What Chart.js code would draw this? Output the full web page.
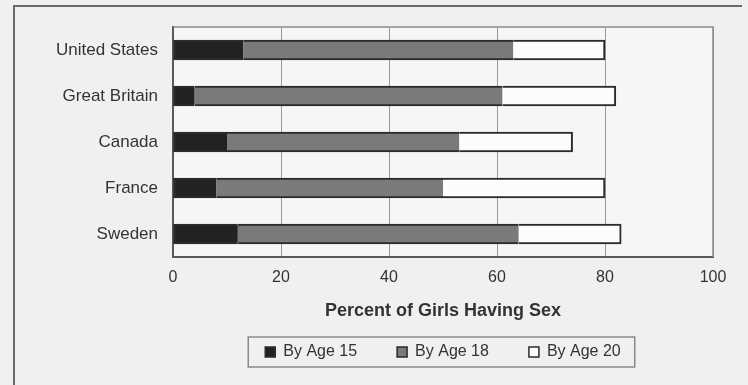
<!DOCTYPE html>
<html>
<head>
<meta charset="utf-8">
<script src="https://cdn.jsdelivr.net/npm/chart.js@4/dist/chart.umd.min.js"></script>
<style>
  html, body { margin: 0; padding: 0; background: #f0f0ee; }
  #wrap { width: 748px; height: 385px; position: relative; overflow: hidden; }
  canvas { display: block; }
</style>
</head>
<body>
<div id="wrap"><canvas id="chart" width="748" height="385"></canvas></div>
<script>
// Cumulative share of girls who have had sex, by age and country (%)
const countries = ['United States', 'Great Britain', 'Canada', 'France', 'Sweden'];
const byAge15 = [13, 4, 10, 8, 12];
const byAge18 = [63, 61, 53, 50, 64];
const byAge20 = [80, 82, 74, 80, 83];
const seriesNames = ['By Age 15', 'By Age 18', 'By Age 20'];
const xTickValues = [0, 20, 40, 60, 80, 100];
const axisTitle = 'Percent of Girls Having Sex';

// Stacked segments: each bar piece is the increase since the previous age
const seg15 = byAge15.slice();
const seg18 = byAge18.map((v, i) => v - byAge15[i]);
const seg20 = byAge20.map((v, i) => v - byAge18[i]);

const FONT = '"Liberation Sans", Arial, Helvetica, sans-serif';
const INK = '#2b2b2b';

// Page frame, plot-area outline and the box around the legend
const decorations = {
  id: 'decorations',
  beforeDraw(chart) {
    const { ctx, chartArea: a } = chart;
    ctx.save();
    ctx.fillStyle = '#f0f0ee';
    ctx.fillRect(0, 0, chart.width, chart.height);
    ctx.fillStyle = '#f6f6f4';
    ctx.fillRect(a.left, a.top, a.right - a.left, a.bottom - a.top);
    ctx.strokeStyle = '#6a6a6a';
    ctx.lineWidth = 2;
    ctx.beginPath();
    ctx.moveTo(14, chart.height + 2);
    ctx.lineTo(14, 6);
    ctx.lineTo(chart.width - 6, 6);
    ctx.stroke();
    ctx.restore();
  },
  afterDraw(chart) {
    const { ctx, chartArea: a } = chart;
    ctx.save();
    ctx.strokeStyle = '#8a8a8a';
    ctx.lineWidth = 1.5;
    ctx.beginPath();
    ctx.moveTo(a.left, a.top);
    ctx.lineTo(a.right, a.top);
    ctx.lineTo(a.right, a.bottom);
    ctx.stroke();
    const boxes = chart.legend && chart.legend.legendHitBoxes;
    if (boxes && boxes.length) {
      const first = boxes[0], last = boxes[boxes.length - 1];
      const x0 = first.left - 17, x1 = last.left + last.width + 14;
      const y0 = first.top - 7, y1 = first.top + first.height + 7;
      ctx.strokeStyle = '#8a8a8a';
      ctx.lineWidth = 1.5;
      ctx.strokeRect(x0, y0, x1 - x0, y1 - y0);
    }
    ctx.restore();
  }
};

new Chart(document.getElementById('chart'), {
  type: 'bar',
  data: {
    labels: countries,
    datasets: [
      { label: seriesNames[0], data: seg15, backgroundColor: '#222222', borderColor: INK,
        borderWidth: { top: 2, bottom: 2, left: 2, right: 0 } },
      { label: seriesNames[1], data: seg18, backgroundColor: '#7a7a7a', borderColor: INK,
        borderWidth: { top: 2, bottom: 2, left: 0, right: 0 } },
      { label: seriesNames[2], data: seg20, backgroundColor: '#fcfcfc', borderColor: INK,
        borderWidth: { top: 2, bottom: 2, left: 0, right: 2 } }
    ]
  },
  options: {
    indexAxis: 'y',
    responsive: false,
    animation: false,
    devicePixelRatio: 1,
    layout: { padding: { left: 0, right: 35, top: 27, bottom: 15 } },
    datasets: { bar: { barThickness: 20, borderSkipped: false } },
    scales: {
      x: {
        stacked: true,
        min: 0,
        max: 100,
        afterBuildTicks: s => { s.ticks = xTickValues.map(v => ({ value: v })); },
        afterFit: s => { s.height = 47; },
        grid: { color: '#9a9a9a', lineWidth: 1, drawTicks: false },
        border: { color: '#5a5a5a', width: 2 },
        ticks: { padding: 11, color: '#333', font: { family: FONT, size: 16 } },
        title: {
          display: true, text: axisTitle, color: '#333',
          font: { family: FONT, size: 18, weight: 'bold' },
          padding: { top: 0, bottom: -18 }
        }
      },
      y: {
        stacked: true,
        afterFit: s => { s.width = 173; },
        grid: { display: false },
        border: { color: '#5a5a5a', width: 2 },
        ticks: { padding: 7, color: '#333', font: { family: FONT, size: 17 } }
      }
    },
    plugins: {
      legend: {
        position: 'bottom',
        fullSize: false,
        labels: {
          boxWidth: 10, boxHeight: 10, padding: 40, color: '#333',
          font: { family: FONT, size: 16 },
          generateLabels(chart) {
            const items = Chart.defaults.plugins.legend.labels.generateLabels(chart);
            items.forEach(it => { it.lineWidth = 1.5; it.strokeStyle = INK; });
            return items;
          }
        }
      },
      tooltip: { enabled: false }
    }
  },
  plugins: [decorations]
});
</script>
</body>
</html>
